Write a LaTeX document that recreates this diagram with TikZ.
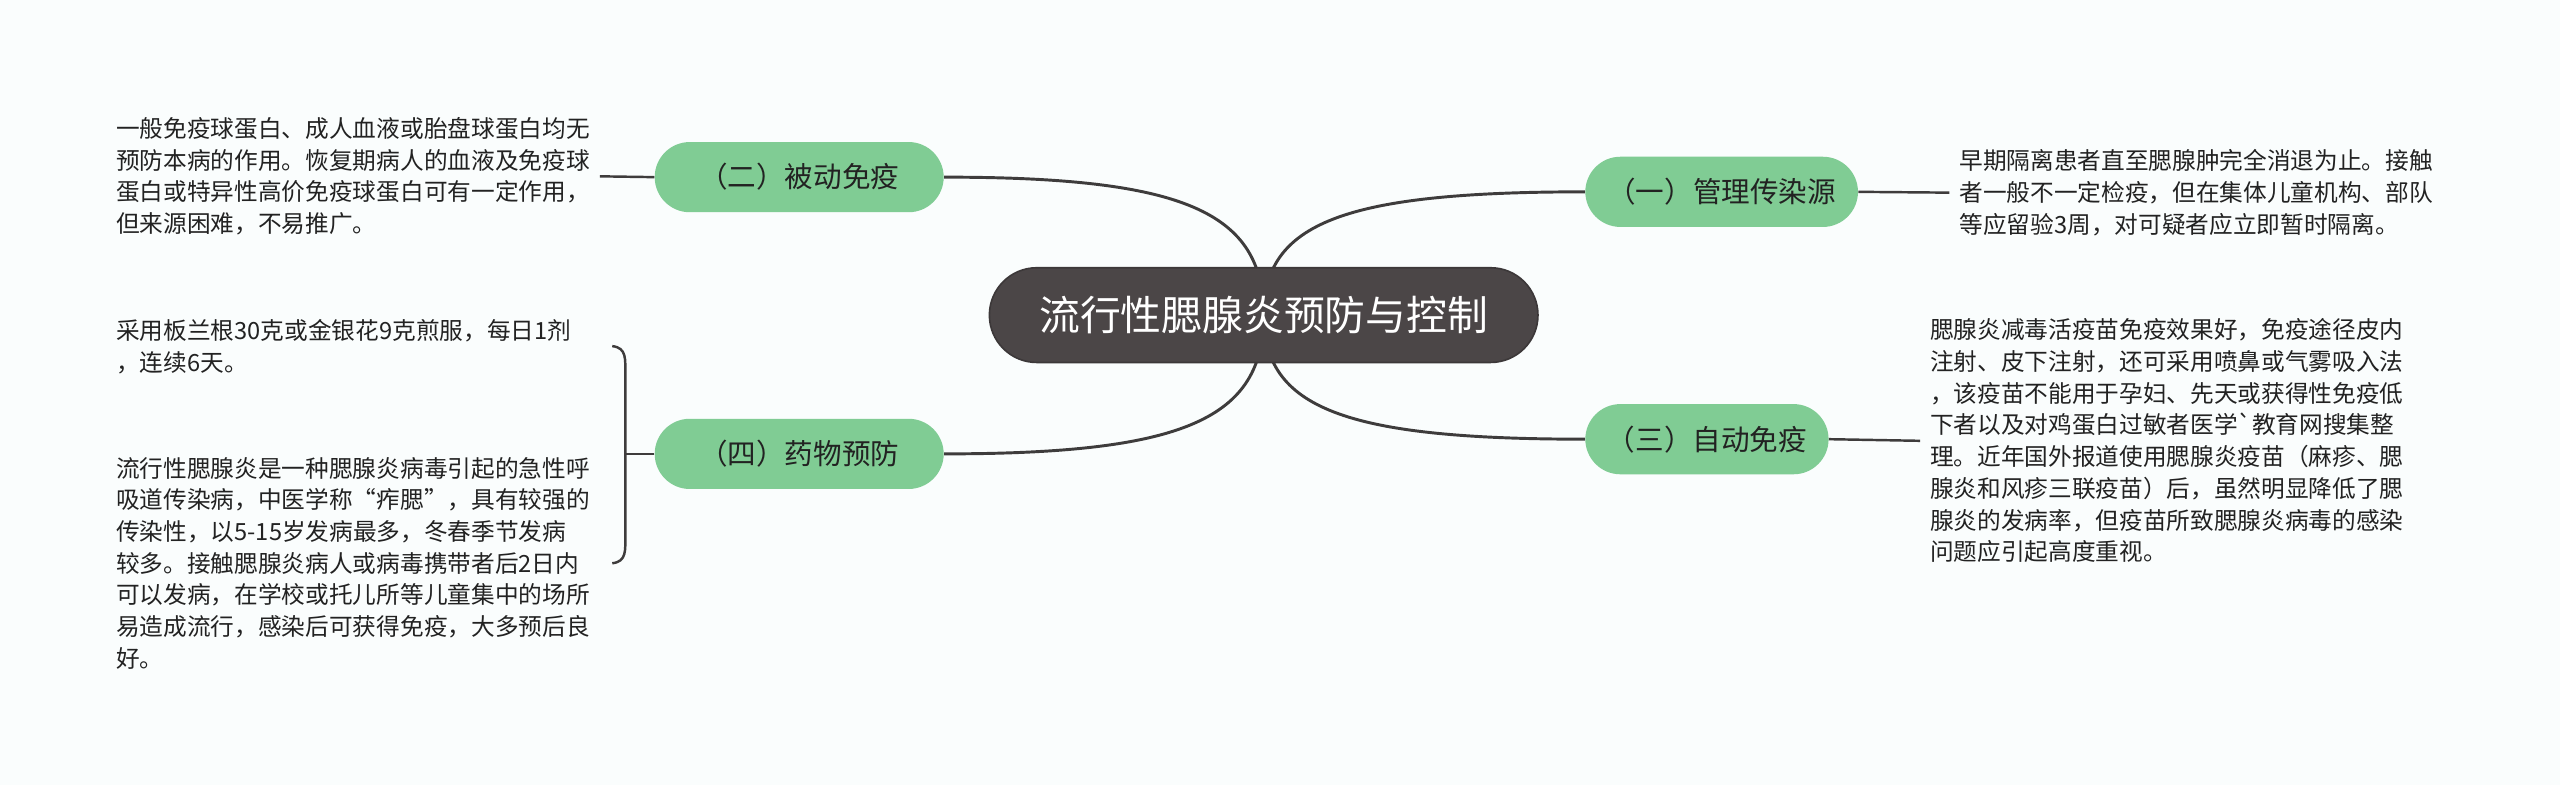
\documentclass[tikz,border=0pt]{standalone}
\usepackage{fontspec}
\newfontfamily\cjk{Noto Sans CJK SC}
\usetikzlibrary{backgrounds,calc}
\definecolor{cbg}{RGB}{250,253,253}
\definecolor{croot}{RGB}{75,70,71}
\definecolor{cgreen}{RGB}{128,204,148}
\definecolor{cline}{RGB}{62,60,60}
\definecolor{ctext}{RGB}{34,34,34}
\tikzset{
  mmap/.style={x=1pt,y=-1pt,font=\cjk},
  rootbox/.style={fill=croot,draw=croot!80!black,line width=1pt,rounded corners=29pt,
    minimum width=336pt,minimum height=58pt,text=white,font=\cjk\fontsize{25}{25}\selectfont},
  topicbox/.style={fill=cgreen,rounded corners=21.5pt,minimum height=43pt,
    text=ctext,font=\cjk\fontsize{17.5}{17.5}\selectfont},
  leaftext/.style={align=left,text=ctext,inner xsep=6pt,inner ysep=0pt,
    font=\cjk\fontsize{14.5}{19.4}\selectfont},
  branch/.style={draw=cline,line width=1.8pt},
  leafline/.style={draw=cline,line width=1.5pt},
}
% curved branch from the root to a topic side
\newcommand{\rootbranch}[1]{%
  \draw[branch] (root.center)
    .. controls ($(root.center)!0.75!(root.center |- #1)$)
    and ($(root.center |- #1)!0.25!(#1)$) .. (#1);}

\begin{document}
\begin{tikzpicture}[mmap]
    \useasboundingbox (0,0) rectangle (1568,481);
    % root and topics
    \node[rootbox] (root) at (774,193) {流行性腮腺炎预防与控制};
    \node[topicbox,minimum width=167pt] (t1) at (1054.5,117.5) {（一）管理传染源};
    \node[topicbox,minimum width=177pt] (t2) at (489.5,108.5) {（二）被动免疫};
    \node[topicbox,minimum width=149pt] (t3) at (1045.5,269) {（三）自动免疫};
    \node[topicbox,minimum width=177pt] (t4) at (489.5,278) {（四）药物预防};
    % leaf texts
    \node[leaftext,anchor=west] (l1) at (1194,118)
      {早期隔离患者直至腮腺肿完全消退为止。接触\\
       者一般不一定检疫，但在集体儿童机构、部队\\
       等应留验3周，对可疑者应立即暂时隔离。};
    \node[leaftext,anchor=west] (l2) at (65,108)
      {一般免疫球蛋白、成人血液或胎盘球蛋白均无\\
       预防本病的作用。恢复期病人的血液及免疫球\\
       蛋白或特异性高价免疫球蛋白可有一定作用，\\
       但来源困难，不易推广。};
    \node[leaftext,anchor=west] (l3) at (1176,270)
      {腮腺炎减毒活疫苗免疫效果好，免疫途径皮内\\
       注射、皮下注射，还可采用喷鼻或气雾吸入法\\
       ，该疫苗不能用于孕妇、先天或获得性免疫低\\
       下者以及对鸡蛋白过敏者医学`教育网搜集整\\
       理。近年国外报道使用腮腺炎疫苗（麻疹、腮\\
       腺炎和风疹三联疫苗）后，虽然明显降低了腮\\
       腺炎的发病率，但疫苗所致腮腺炎病毒的感染\\
       问题应引起高度重视。};
    \node[leaftext,anchor=west] (l4a) at (65,212.5)
      {采用板兰根30克或金银花9克煎服，每日1剂\\
       ，连续6天。};
    \node[leaftext,anchor=west] (l4b) at (65,345)
      {流行性腮腺炎是一种腮腺炎病毒引起的急性呼\\
       吸道传染病，中医学称“痄腮”，具有较强的\\
       传染性，以5-15岁发病最多，冬春季节发病\\
       较多。接触腮腺炎病人或病毒携带者后2日内\\
       可以发病，在学校或托儿所等儿童集中的场所\\
       易造成流行，感染后可获得免疫，大多预后良\\
       好。};
    % leaf lines
    \draw[leafline] (t1.east) -- (l1.west);
    \draw[leafline] (t2.west) -- (l2.east);
    \draw[leafline] (t3.east) -- (l3.west);
    \coordinate (bt) at (375,212);
    \coordinate (bb) at (375,345);
    \coordinate (bm) at (383,278);
    \draw[leafline] (bt) .. controls (384,213) and (383,220) .. (383,230) -- (383,327)
      .. controls (383,337) and (384,344) .. (bb); % brace
    \draw[leafline] (t4.west) -- (bm);
    \begin{scope}[on background layer]
      \fill[cbg] (0,0) rectangle (1568,481);
      \rootbranch{t1.west}
      \rootbranch{t2.east}
      \rootbranch{t3.west}
      \rootbranch{t4.east}
    \end{scope}
\end{tikzpicture}
\end{document}
